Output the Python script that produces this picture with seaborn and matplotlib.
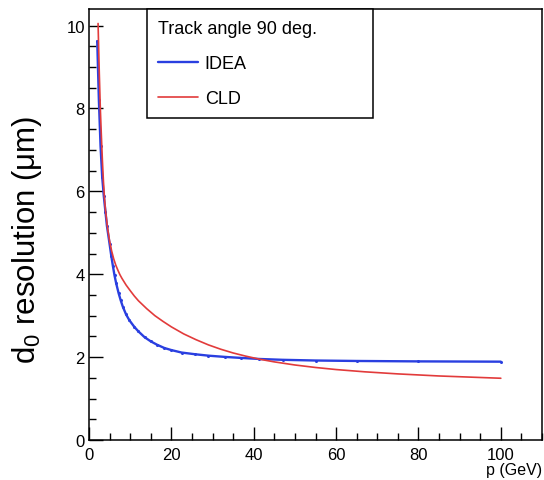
import numpy as np
import pandas as pd
import matplotlib
matplotlib.use("Agg")
import matplotlib.pyplot as plt
from matplotlib.ticker import MultipleLocator
import seaborn as sns

# Data (track angle 90 deg)
p_idea = [2.0, 2.4, 2.8, 3.2, 3.6, 4.0, 4.35, 5.0, 5.4, 5.8, 6.2, 6.6, 7.2,
          7.7, 8.2, 9.0, 9.8, 11.0, 12.0, 13.5, 15.0, 16.5, 18.3, 20.0,
          22.5, 25.7, 29.0, 33.0, 37.0, 41.4, 47.0, 55.0, 65.0, 80.0, 100.0]
d0_idea = [9.62, 8.2, 7.1, 6.35, 5.88, 5.5, 5.17, 4.73, 4.45, 4.2, 3.97,
           3.78, 3.54, 3.37, 3.22, 3.03, 2.89, 2.73, 2.62, 2.48, 2.38, 2.30,
           2.22, 2.17, 2.11, 2.07, 2.035, 2.005, 1.98, 1.955, 1.935, 1.918,
           1.907, 1.897, 1.89]

p_cld = [2.2, 2.5, 2.75, 3.0, 3.25, 3.5, 3.75, 4.0, 4.5, 5.0, 5.5, 6.0, 6.5,
         7.0, 7.5, 8.0, 9.0, 10.0, 11.0, 12.0, 14.0, 16.0, 18.0, 20.0, 23.0,
         26.0, 29.0, 32.0, 35.0, 38.0, 41.4, 45.0, 50.0, 55.0, 60.0, 67.0,
         75.0, 85.0, 100.0]
d0_cld = [10.05, 8.85, 8.0, 7.35, 6.75, 6.25, 5.85, 5.55, 5.12, 4.8, 4.56,
          4.37, 4.22, 4.1, 3.99, 3.9, 3.74, 3.605, 3.475, 3.36, 3.17, 3.0,
          2.86, 2.73, 2.56, 2.42, 2.295, 2.19, 2.10, 2.025, 1.95, 1.885, 1.81,
          1.75, 1.70, 1.645, 1.595, 1.545, 1.49]

legend_title = "Track angle 90 deg."
x_title = "p (GeV)"
y_title = r"d$_0$ resolution (μm)"

sns.set_theme(style="ticks")
plt.rcParams['font.family'] = ['Liberation Sans', 'DejaVu Sans']
plt.rcParams['mathtext.fontset'] = 'custom'
plt.rcParams['mathtext.rm'] = 'Liberation Sans'
plt.rcParams['mathtext.it'] = 'Liberation Sans:italic'
plt.rcParams['text.color'] = 'black'
plt.rcParams['axes.labelcolor'] = 'black'
plt.rcParams['xtick.color'] = 'black'
plt.rcParams['ytick.color'] = 'black'

df_idea = pd.DataFrame({'p': p_idea, 'd0': d0_idea})
df_cld = pd.DataFrame({'p': p_cld, 'd0': d0_cld})

fig = plt.figure(figsize=(5.44, 4.81), dpi=100)
ax = fig.add_axes([89 / 544, 40 / 481, 453 / 544, 431 / 481])

sns.lineplot(data=df_idea, x='p', y='d0', ax=ax, color='#2a3fe0', lw=1.7,
             marker='o', markersize=2.2, markeredgewidth=0, estimator=None,
             label='IDEA')
sns.lineplot(data=df_cld, x='p', y='d0', ax=ax, color='#e23b3b', lw=1.2,
             estimator=None, label='CLD')

ax.set_xlim(0, 110)
ax.set_ylim(0, 10.4)
ax.xaxis.set_major_locator(MultipleLocator(20))
ax.xaxis.set_minor_locator(MultipleLocator(5))
ax.yaxis.set_major_locator(MultipleLocator(2))
ax.yaxis.set_minor_locator(MultipleLocator(0.5))
ax.tick_params(which='both', direction='in', top=False, right=False,
               labelsize=12, colors='black', width=1.0)
ax.tick_params(axis='x', which='major', length=9.5, pad=5)
ax.tick_params(axis='y', which='major', length=10, pad=3)
ax.tick_params(which='minor', length=4.7)
for s in ax.spines.values():
    s.set_linewidth(1.1)
    s.set_color('black')

ax.set_xlabel(x_title, fontsize=11.5, ha='right', va='top')
ax.xaxis.set_label_coords(1.0, -0.05)
ax.set_ylabel(y_title, fontsize=22.5, va='center')
ax.yaxis.set_label_coords(-0.137, 0.466)

leg = ax.legend(title=legend_title, loc='upper left',
                bbox_to_anchor=(0.128, 0.752, 0.499, 0.248), mode='expand',
                borderaxespad=0, fontsize=13, title_fontsize=13,
                frameon=True, fancybox=False, framealpha=1,
                edgecolor='black', borderpad=0.6, labelspacing=1.0,
                handlelength=2.2, handletextpad=0.4, alignment='left')
leg.get_frame().set_linewidth(1.1)
for h in leg.legend_handles:
    h.set_marker('')

fig.savefig("out.png", dpi=100)
